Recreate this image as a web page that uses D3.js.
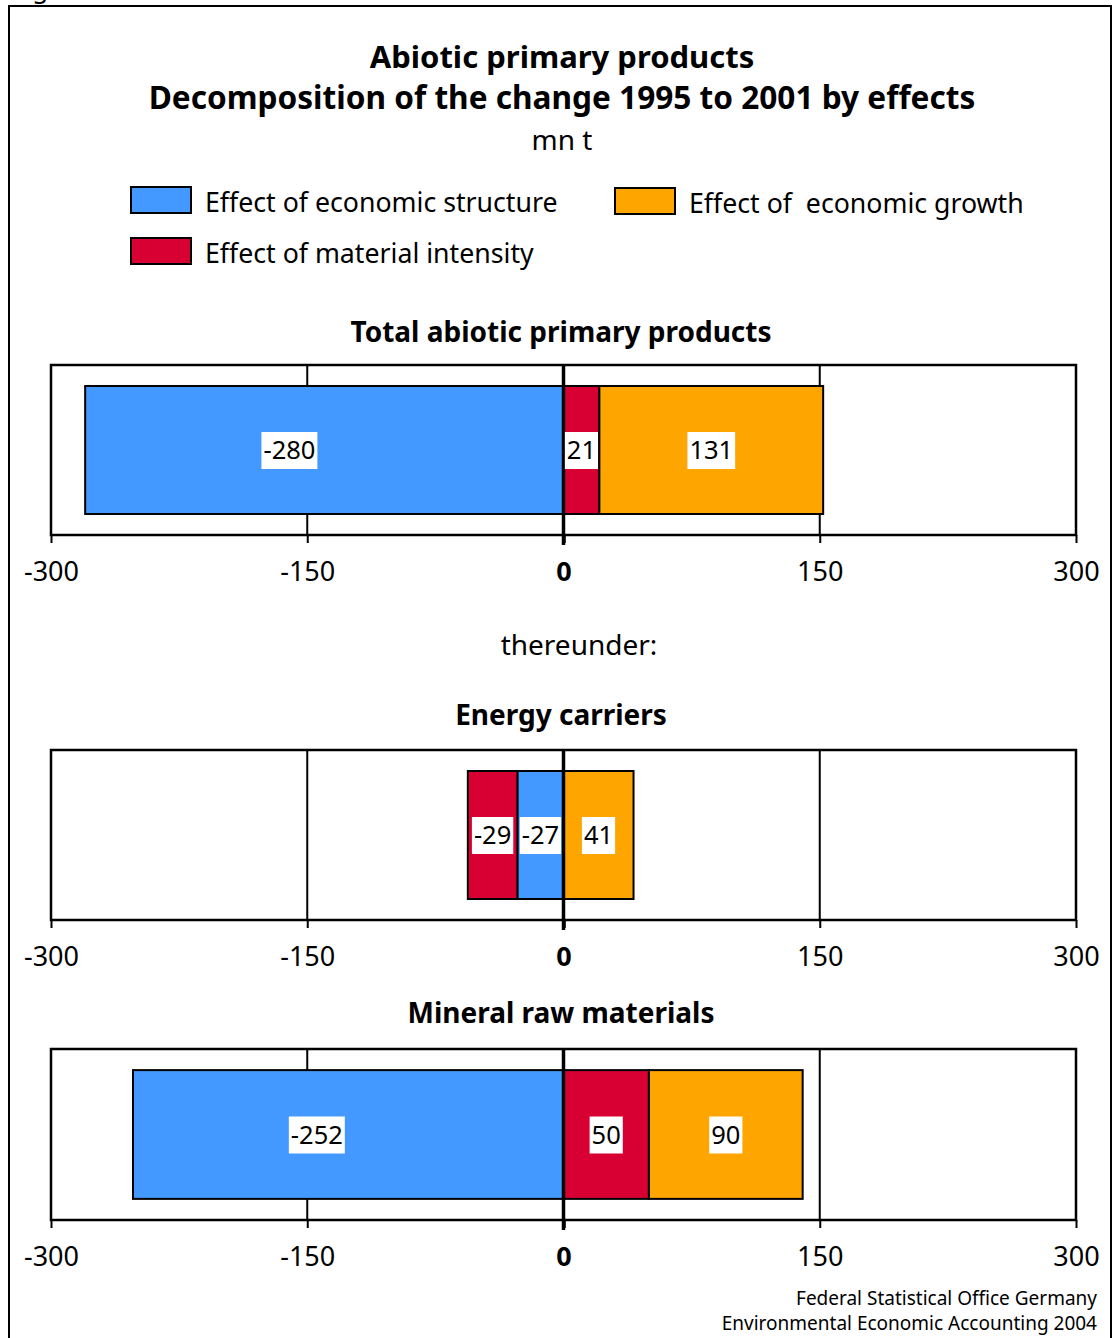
<!DOCTYPE html>
<html>
<head>
<meta charset="utf-8">
<script src="https://cdn.jsdelivr.net/npm/d3@7"></script>
<style>
  html, body { margin: 0; padding: 0; background: #fff; }
  svg { display: block; }
  text { white-space: pre; }
</style>
</head>
<body>
<svg id="chart" width="1112" height="1338"></svg>
<script>
// ---------- data ----------
const effectKeys = ["structure", "intensity", "growth"];
const effectLabels = ["Effect of economic structure", "Effect of material intensity", "Effect of  economic growth"];
const panelTitles = ["Total abiotic primary products", "Energy carriers", "Mineral raw materials"];
const structureValues = [-280, -27, -252];
const intensityValues = [21, -29, 50];
const growthValues = [131, 41, 90];
const tickValues = [-300, -150, 0, 150, 300];
const titleLines = ["Abiotic primary products", "Decomposition of the change 1995 to 2001 by effects"];
const unitLabel = "mn t";
const subHeading = "thereunder:";
const sourceLines = ["Federal Statistical Office Germany", "Environmental Economic Accounting 2004"];

// ---------- styles ----------
const colors = { structure: "#4399ff", intensity: "#d80032", growth: "#ffa500" };
const FONT = "'Noto Sans', 'Open Sans', sans-serif";
const LABEL_FONT = "'Noto Sans', sans-serif";
const titleSizes = [31, 31.6];

const svg = d3.select("#chart");

// outer border
svg.append("rect").attr("x", 9).attr("y", 6).attr("width", 1102).attr("height", 1345)
  .attr("fill", "none").attr("stroke", "#000").attr("stroke-width", 2);
// cut-off caption above frame
svg.append("text").attr("x", 12).attr("y", -2).attr("font-family", FONT).attr("font-size", 26).text("Fig");

// titles
titleLines.forEach((t, i) => {
  svg.append("text").attr("x", 562).attr("y", 68 + i * 41).attr("text-anchor", "middle")
    .attr("font-family", FONT).attr("font-weight", "bold").attr("font-size", titleSizes[i]).text(t);
});
svg.append("text").attr("x", 562).attr("y", 150).attr("text-anchor", "middle")
  .attr("font-family", FONT).attr("font-size", 28).text(unitLabel);

// legend
const legendPos = [
  { x: 131, y: 187, key: "structure", label: effectLabels[0] },
  { x: 131, y: 238, key: "intensity", label: effectLabels[1] },
  { x: 615, y: 188, key: "growth", label: effectLabels[2] }
];
legendPos.forEach(l => {
  svg.append("rect").attr("x", l.x).attr("y", l.y).attr("width", 60).attr("height", 26)
    .attr("fill", colors[l.key]).attr("stroke", "#000").attr("stroke-width", 2);
  svg.append("text").attr("x", l.x + 74).attr("y", l.y + 25)
    .attr("font-family", FONT).attr("font-size", 26.7).text(l.label);
});

// scales
const x = d3.scaleLinear().domain([-300, 300]).range([51, 1076]);

// panel data
const rows = panelTitles.map((p, i) => ({
  panel: p, structure: structureValues[i], intensity: intensityValues[i], growth: growthValues[i]
}));
const series = d3.stack().keys(effectKeys).offset(d3.stackOffsetDiverging)(rows);

const panelLayout = [
  { titleY: 342, top: 365, bottom: 535 },
  { titleY: 725, top: 750, bottom: 920 },
  { titleY: 1023, top: 1049, bottom: 1220 }
];

svg.append("text").attr("x", 579).attr("y", 655).attr("text-anchor", "middle")
  .attr("font-family", FONT).attr("font-size", 28).text(subHeading);

panelLayout.forEach((L, pi) => {
  const g = svg.append("g");
  g.append("text").attr("x", 561).attr("y", L.titleY).attr("text-anchor", "middle")
    .attr("font-family", FONT).attr("font-weight", "bold").attr("font-size", 28).text(panelTitles[pi]);

  const y = d3.scaleBand().domain([panelTitles[pi]]).range([L.top, L.bottom]).paddingInner(0).paddingOuter(0.164);

  // frame
  g.append("rect").attr("x", x(-300)).attr("y", L.top).attr("width", x(300) - x(-300))
    .attr("height", L.bottom - L.top).attr("fill", "#fff").attr("stroke", "#000").attr("stroke-width", 2.5);

  // axis ticks + labels
  const axis = g.append("g").attr("transform", `translate(0,${L.bottom})`)
    .call(d3.axisBottom(x).tickValues(tickValues).tickSize(8).tickFormat(d => String(d)));
  axis.select(".domain").remove();
  axis.selectAll(".tick line").attr("stroke", "#000").attr("stroke-width", d => d === 0 ? 3.5 : 2);
  axis.selectAll(".tick text").attr("y", 46).attr("dy", 0)
    .attr("font-family", FONT).attr("font-size", 27).attr("fill", "#000")
    .attr("font-weight", d => d === 0 ? "bold" : "normal");

  // gridlines at inner ticks
  g.selectAll(".grid").data(tickValues.filter(t => t !== 0 && Math.abs(t) < 300)).enter()
    .append("line").attr("x1", d => x(d)).attr("x2", d => x(d))
    .attr("y1", L.top).attr("y2", L.bottom).attr("stroke", "#000").attr("stroke-width", 2);

  // bars
  series.forEach(s => {
    const d = s[pi];
    g.append("rect")
      .attr("x", x(Math.min(d[0], d[1]))).attr("y", y(panelTitles[pi]))
      .attr("width", Math.abs(x(d[1]) - x(d[0]))).attr("height", y.bandwidth())
      .attr("fill", colors[s.key]).attr("stroke", "#000").attr("stroke-width", 2);
  });

  // zero line
  g.append("line").attr("x1", x(0)).attr("x2", x(0)).attr("y1", L.top).attr("y2", L.bottom + 10)
    .attr("stroke", "#000").attr("stroke-width", 3.5);

  // value labels (wide bars: label placed left of centre, as in the original)
  series.forEach(s => {
    const d = s[pi];
    const x0 = x(Math.min(d[0], d[1])), x1 = x(Math.max(d[0], d[1]));
    const frac = (x1 - x0) > 200 && s.key === "structure" ? 0.427 : 0.5;
    const cx = x0 + (x1 - x0) * frac;
    const cy = y(panelTitles[pi]) + y.bandwidth() / 2;
    const lg = g.append("g");
    const bg = lg.append("rect").attr("fill", "#fff");
    const t = lg.append("text").attr("x", cx).attr("y", cy + 9).attr("text-anchor", "middle")
      .attr("font-family", LABEL_FONT).attr("font-size", 25.5).attr("fill", "#000")
      .text(String(d.data[s.key]));
    const bb = t.node().getBBox();
    bg.attr("x", bb.x - 2).attr("y", cy - 18).attr("width", bb.width + 4).attr("height", 37);
  });
});

// source
sourceLines.forEach((t, i) => {
  svg.append("text").attr("x", 1097).attr("y", 1305 + i * 25).attr("text-anchor", "end")
    .attr("font-family", FONT).attr("font-size", 19).text(t);
});
</script>
</body>
</html>
